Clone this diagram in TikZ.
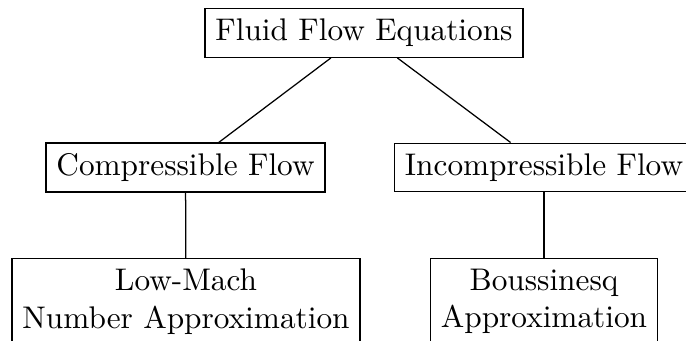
\documentclass[tikz,border=0pt]{standalone}
\usepackage{tikz}
\usetikzlibrary{positioning}

\begin{document}
\begin{tikzpicture}[
  x=0.3195pt, y=-0.3195pt,
  box/.style={draw, align=center, inner sep=3.33pt},
  link/.style={draw}
]
  \useasboundingbox (0,0) rectangle (686,341);

  \node[box] (ffe) at (364,33) {Fluid Flow Equations};
  \node[box] (comp) at (185.5,167.5) {Compressible Flow};
  \node[box] (incomp) at (544,167.5) {Incompressible Flow};

  \node[box, anchor=north] (lowmach) at (186,258) {Low-Mach\\ Number Approximation};
  \node[box, anchor=north] (bouss) at (544,258) {Boussinesq\\ Approximation};

  \draw[link] (ffe) -- (comp);
  \draw[link] (ffe) -- (incomp);
  \draw[link] (comp) -- (lowmach);
  \draw[link] (incomp) -- (bouss);
\end{tikzpicture}
\end{document}
